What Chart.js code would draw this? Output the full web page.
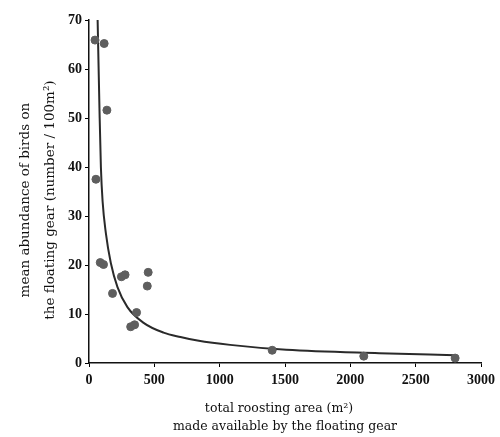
<!DOCTYPE html>
<html>
<head>
<meta charset="utf-8">
<script src="https://cdn.jsdelivr.net/npm/chart.js@4/dist/chart.umd.min.js"></script>
<style>
  html, body { margin: 0; padding: 0; background: #fff; }
  #wrap { width: 500px; height: 437px; position: relative; }
</style>
</head>
<body>
<div id="wrap"><canvas id="chart"></canvas></div>
<script>
// Observed points (roosting area m2, abundance per 100m2)
const areaX = [46, 116, 137, 53, 86, 111, 180, 248, 276, 453, 446, 364, 319, 349, 1402, 2103, 2802];
const abundY = [65.9, 65.2, 51.6, 37.5, 20.5, 20.1, 14.2, 17.6, 18.0, 18.5, 15.7, 10.3, 7.4, 7.8, 2.6, 1.4, 1.0];

// Fitted curve
const curveX = [66, 80, 91, 104, 129, 167, 218, 294, 418, 570, 700, 830, 1080, 1510, 2220, 2800];
const curveY = [70, 52, 40, 33, 26.5, 20.4, 15.5, 11.4, 8.2, 6.2, 5.3, 4.6, 3.7, 2.7, 2.0, 1.6];

const xTicks = [0, 500, 1000, 1500, 2000, 2500, 3000];
const yTicks = [0, 10, 20, 30, 40, 50, 60, 70];

const tickFont = "'Liberation Serif', serif";
const titleFont = "'DejaVu Serif', serif";
const nb = '\u00a0';

const pointData = areaX.map((x, i) => ({ x: x, y: abundY[i] }));
const curveData = curveX.map((x, i) => ({ x: x, y: curveY[i] }));

new Chart(document.getElementById('chart'), {
    type: 'scatter',
    data: {
        datasets: [
            {
                label: 'fit',
                data: curveData,
                showLine: true,
                borderColor: '#2a2a2a',
                borderWidth: 2,
                pointRadius: 0,
                cubicInterpolationMode: 'monotone',
                order: 2
            },
            {
                label: 'observed',
                data: pointData,
                backgroundColor: '#5e5e5e',
                borderColor: '#5e5e5e',
                pointRadius: 4,
                order: 1
            }
        ]
    },
    options: {
        responsive: true,
        maintainAspectRatio: false,
        animation: false,
        layout: { padding: { top: 20, right: 17, left: 9, bottom: 0 } },
        plugins: {
            legend: { display: false },
            tooltip: { enabled: false }
        },
        scales: {
            x: {
                type: 'linear',
                min: 0,
                max: 3000,
                afterBuildTicks: s => { s.ticks = xTicks.map(v => ({ value: v })); },
                afterFit: s => { s.height = 74; },
                grid: { drawOnChartArea: false, drawTicks: true, tickLength: 4, color: '#000' },
                border: { color: '#111', width: 1.5 },
                ticks: {
                    color: '#111',
                    font: { family: tickFont, size: 14, weight: 'bold' },
                    padding: 5,
                    maxRotation: 0,
                    callback: v => String(v)
                },
                title: {
                    display: true,
                    text: ['total roosting area (m\u00b2)' + nb.repeat(3), 'made available by the floating gear'],
                    color: '#111',
                    font: { family: titleFont, size: 12.5, lineHeight: 1.45 },
                    padding: { top: 0, bottom: 1 }
                }
            },
            y: {
                type: 'linear',
                min: 0,
                max: 70,
                afterBuildTicks: s => { s.ticks = yTicks.map(v => ({ value: v })); },
                afterFit: s => { s.width = 80; },
                grid: { drawOnChartArea: false, drawTicks: true, tickLength: 4, color: '#000' },
                border: { color: '#111', width: 1.5 },
                ticks: { color: '#111', font: { family: tickFont, size: 14, weight: 'bold' }, padding: 3 },
                title: {
                    display: true,
                    text: ['mean abundance of birds on' + nb.repeat(4), 'the floating gear (number / 100m\u00b2)' + nb.repeat(4)],
                    color: '#111',
                    font: { family: titleFont, size: 13.5, lineHeight: 1.85 },
                    padding: { bottom: 2 }
                }
            }
        }
    }
});
</script>
</body>
</html>
